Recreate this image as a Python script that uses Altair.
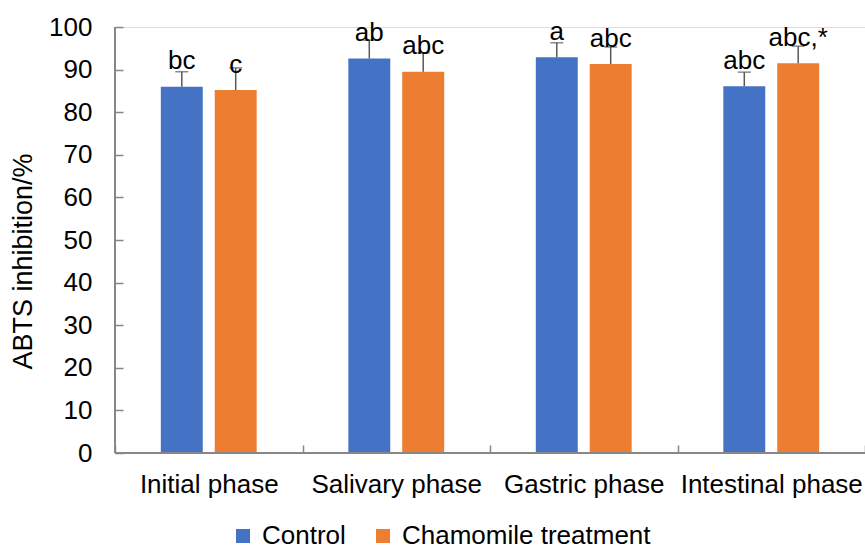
import altair as alt
import pandas as pd

# ABTS radical-scavenging activity across simulated digestion phases
phases = ["Initial phase", "Salivary phase", "Gastric phase", "Intestinal phase"]
groups = ["Control", "Chamomile treatment"]

control_mean = [86.0, 92.6, 92.9, 86.1]
control_sd = [3.5, 4.3, 3.4, 3.3]
control_letters = ["bc", "ab", "a", "abc"]

chamomile_mean = [85.2, 89.5, 91.3, 91.5]
chamomile_sd = [5.2, 4.4, 4.0, 4.0]
chamomile_letters = ["c", "abc", "abc", "abc,*"]

y_ticks = list(range(0, 101, 10))

BLUE = "#4472C4"
ORANGE = "#ED7D31"
AXIS_GREY = "#878787"
ERR_GREY = "#595959"
FONT = "Liberation Sans"
FS = 26

rows = []
for i, p in enumerate(phases):
    rows.append(dict(phase=p, group=groups[0], value=control_mean[i],
                     upper=control_mean[i] + control_sd[i], label=control_letters[i]))
    rows.append(dict(phase=p, group=groups[1], value=chamomile_mean[i],
                     upper=chamomile_mean[i] + chamomile_sd[i], label=chamomile_letters[i]))
df = pd.DataFrame(rows)

x_enc = alt.X(
    "phase:N", sort=phases,
    scale=alt.Scale(paddingInner=0, paddingOuter=0),
    axis=alt.Axis(
        title=None, offset=-8, domain=False, tickBand="extent",
        tickSize=8, tickColor=AXIS_GREY, tickWidth=1.5,
        labelFontSize=FS, labelPadding=18, labelAngle=0, labelColor="black",
        labelLimit=300, labelOverlap=False, labelFont=FONT,
    ),
)
xoff_enc = alt.XOffset("group:N", sort=groups,
                       scale=alt.Scale(paddingInner=0.222, paddingOuter=0.85))
y_scale = alt.Scale(domain=[0, 100], nice=False, zero=True)
y_enc = alt.Y(
    "value:Q", scale=y_scale,
    axis=alt.Axis(
        values=y_ticks, offset=-8, domain=False, grid=False,
        tickSize=8, tickColor=AXIS_GREY, tickWidth=1.5,
        labelFontSize=FS, labelPadding=23, labelColor="black", labelFont=FONT,
        title="ABTS inhibition/%", titleFontSize=27, titleFontWeight="normal",
        titleColor="black", titlePadding=11, titleFont=FONT, titleY=234,
    ),
)

base = alt.Chart(df)

bars = base.mark_bar().encode(
    x=x_enc,
    xOffset=xoff_enc,
    y=y_enc,
    color=alt.Color(
        "group:N", sort=groups,
        scale=alt.Scale(domain=groups, range=[BLUE, ORANGE]),
        legend=alt.Legend(
            title=None, orient="none", direction="horizontal",
            legendX=115, legendY=496,
            symbolType="square", symbolSize=196, symbolStrokeWidth=0,
            labelFontSize=FS, labelColor="black", labelFont=FONT,
            labelOffset=6, columnPadding=24, labelLimit=400,
        ),
    ),
)

err_line = base.mark_rule(color=ERR_GREY, strokeWidth=1.5).encode(
    x=alt.X("phase:N", sort=phases),
    xOffset=alt.XOffset("group:N", sort=groups),
    y=alt.Y("value:Q", scale=y_scale),
    y2="upper:Q",
)

err_cap = base.mark_tick(color=ERR_GREY, size=13, thickness=1.5, orient="horizontal").encode(
    x=alt.X("phase:N", sort=phases),
    xOffset=alt.XOffset("group:N", sort=groups),
    y=alt.Y("upper:Q", scale=y_scale),
)

letters = base.mark_text(
    baseline="alphabetic", dy=-17.5, fontSize=FS, color="black", font=FONT
).encode(
    x=alt.X("phase:N", sort=phases),
    xOffset=alt.XOffset("group:N", sort=groups),
    y=alt.Y("value:Q", scale=y_scale),
    text="label:N",
)

# axis lines drawn as rules: baseline along y = 0 and vertical line at the left edge
x_axis_line = alt.Chart(df).mark_rule(color=AXIS_GREY, strokeWidth=1.5).encode(
    y=alt.Y("zero:Q", scale=y_scale)
).transform_calculate(zero="0")
y_axis_line = alt.Chart(df).mark_rule(color=AXIS_GREY, strokeWidth=1.5).encode(
    x=alt.value(0),
    y=alt.Y("lo:Q", scale=y_scale),
    y2="hi:Q",
).transform_calculate(lo="0", hi="100")

chart = (
    alt.layer(bars, err_line, err_cap, letters, x_axis_line, y_axis_line)
    .properties(
        width=750, height=426,
        padding={"left": 115, "top": 27, "right": 0, "bottom": 96},
        autosize=alt.AutoSizeParams(type="none"),
    )
    .configure_view(strokeWidth=0)
    .configure(font=FONT)
)

chart.save("out.html", embed_options={"renderer": "svg", "actions": False})
